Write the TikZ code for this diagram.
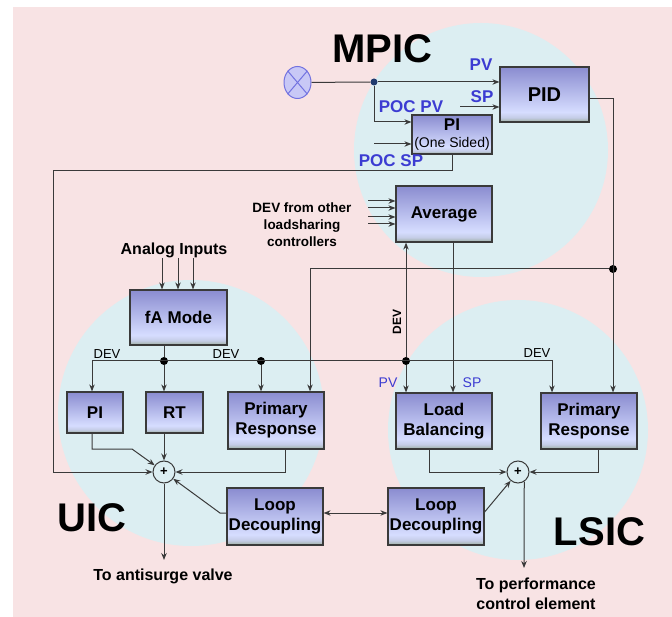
\documentclass[tikz,border=0pt]{standalone}
\usepackage{fontspec}
\setmainfont{Liberation Sans}
\usetikzlibrary{arrows.meta,calc,shapes.geometric}
\definecolor{bgpink}{HTML}{F8E3E4}
\definecolor{circblue}{HTML}{DCEEF2}
\definecolor{bxtop}{HTML}{8A8CD0}
\definecolor{bxlight}{HTML}{D6DDFF}
\definecolor{bxmid}{HTML}{C4CCE6}
\definecolor{bxbot}{HTML}{9DAF9F}
\definecolor{lblue}{HTML}{3C3CD2}
\definecolor{lnc}{HTML}{3A3A3A}
\definecolor{navy}{HTML}{1F3A6E}
\definecolor{valvefill}{HTML}{C8C8F6}
\definecolor{valveline}{HTML}{7272E0}
\pgfdeclareverticalshading{boxsh}{100bp}{color(0bp)=(bxbot); color(25bp)=(bxbot); color(29bp)=(bxmid); color(34bp)=(bxlight); color(75bp)=(bxtop); color(100bp)=(bxtop)}
\newcommand\myfs[2]{\fontsize{#1}{#2}\selectfont}
\begin{document}
\begin{tikzpicture}[x=1pt,y=-1pt,
  box/.style={draw=lnc,line width=1.2pt,shading=boxsh,inner sep=0pt,align=center,font=\bfseries\myfs{17}{20}},
  ln/.style={draw=lnc,line width=1pt},
  arr/.style={-{Stealth[length=7pt,width=5.5pt]}},
  dot/.style={circle,fill=black,inner sep=0pt,minimum size=8pt},
  sumc/.style={circle,draw=lnc,line width=1pt,fill=circblue,minimum size=22pt,inner sep=0pt,font=\bfseries\myfs{13}{13}},
  blab/.style={text=lblue,font=\bfseries\myfs{17}{17},inner sep=0pt},
  slab/.style={text=lblue,font=\myfs{14}{14},inner sep=0pt},
  dlab/.style={font=\myfs{13}{13},inner sep=0pt},
  big/.style={font=\bfseries\myfs{40}{40},inner sep=0pt},
  tlab/.style={font=\bfseries\myfs{16}{20},align=center,inner sep=0pt}
]
\useasboundingbox (0,0) rectangle (672,617);
\fill[white] (0,0) rectangle (672,617);
\fill[bgpink] (13,7) rectangle (672,617);
% regions
\fill[circblue] (481,150) circle[radius=127pt];
\fill[circblue] (191,413) circle[radius=133pt];
\fill[circblue] (518,430) circle[radius=130pt];
% big labels
\node[big] (mpic) at (382.5,49) {MPIC};
\node[big] (uic) at (92,517.5) {UIC};
\node[big] (lsic) at (599.5,532) {LSIC};
% boxes
\node[box,minimum width=89pt,minimum height=55pt,font=\bfseries\myfs{20}{20}] (PID) at (544.5,94.5) {PID};
\node[box,minimum width=80pt,minimum height=39pt,font=\bfseries\myfs{17}{17}] (PI1) at (452,134.5) {PI\\{\mdseries\myfs{14}{14}(One Sided)}};
\node[box,minimum width=96pt,minimum height=56pt] (avg) at (444,214) {Average};
\node[box,minimum width=97pt,minimum height=55pt] (fA) at (178.5,317.5) {fA Mode};
\node[box,minimum width=56pt,minimum height=41pt] (PI2) at (95,412.5) {PI};
\node[box,minimum width=57pt,minimum height=41pt] (RT) at (174.5,412.5) {RT};
\node[box,minimum width=96pt,minimum height=57pt] (PRU) at (276,420.5) {Primary\\Response};
\node[box,minimum width=96pt,minimum height=56pt] (LB) at (444,421) {Load\\Balancing};
\node[box,minimum width=96pt,minimum height=56pt] (PRL) at (589,421) {Primary\\Response};
\node[box,minimum width=96pt,minimum height=57pt] (LDU) at (275,516.5) {Loop\\Decoupling};
\node[box,minimum width=96pt,minimum height=57pt] (LDL) at (436,516.5) {Loop\\Decoupling};
\node[sumc] (sumU) at (164,472) {+};
\node[sumc] (sumL) at (518,472) {+};
% valve
\node[ellipse,draw=valveline,fill=valvefill,line width=1pt,minimum width=27pt,minimum height=32pt,inner sep=0pt] (valve) at (297.5,82.5) {};
\draw[valveline,line width=1pt] (valve.north west) -- (valve.south east);
\draw[valveline,line width=1pt] (valve.north east) -- (valve.south west);
% MPIC connectors
\node[dot,fill=navy,minimum size=7pt] (jV) at (374,82) {};
\draw[ln] (valve) -- (jV);
\draw[ln,arr] (jV) -- (jV -| PID.west);
\draw[ln,arr] (jV) |- ([yshift=12.5pt]PI1.west);
\coordinate (pocspin) at (374,144);
\draw[ln,arr] (pocspin) -- (pocspin -| PI1.west);
\coordinate (spin) at (460,107);
\draw[ln,arr] (spin) -- (spin -| PID.west);
\node[blab] at (481,65) {PV};
\node[blab] at (482,96.5) {SP};
\node[blab] at (411,106.5) {POC PV};
\node[blab] at (391,161) {POC SP};
% POC SP loop to UIC sum
\coordinate (l1) at (53,171);
\draw[ln,arr] (PI1.south) |- (l1) |- (sumU.west);
% PID output
\node[dot] (jP) at (613,269) {};
\draw[ln,arr] ([yshift=-4.5pt]PID.east) -| (PRL.north -| jP);
\draw[ln,arr] (jP) -| ([xshift=34pt]PRU.north);
% Average inputs
\node[font=\bfseries\myfs{13.5}{17},align=center,inner sep=0pt] (devtxt) at (302,225) {DEV from other\\loadsharing\\controllers};
\foreach \i/\yy in {1/201,2/208,3/217,4/224}{
  \coordinate (dv\i) at (368,\yy);
  \draw[ln,arr] (dv\i) -- (dv\i -| avg.west);
}
% analog inputs
\node[font=\bfseries\myfs{16}{16},inner sep=0pt] (analog) at (174,250) {Analog Inputs};
\foreach \dx in {-16.5,-0.5,14.5}{
  \draw[ln,arr] ([xshift=\dx pt,yshift=-8pt]analog.center -| fA.north) -- ([xshift=\dx pt]fA.north);
}
% DEV bus
\node[dot] (jA) at (164,361) {};
\node[dot] (jB) at (261,361) {};
\node[dot] (jC) at (406,361) {};
\coordinate (busL) at (92,361);
\coordinate (busR) at (552,361);
\draw[ln] ([xshift=-14.5pt]fA.south) -- (jA);
\draw[ln,arr] (busL) -- (busL |- PI2.north);
\draw[ln,arr] (busL) -- (busR) -- (busR |- PRL.north);
\draw[ln,arr] (jA) -- (jA |- RT.north);
\draw[ln,arr] (jB) -- (jB |- PRU.north);
\draw[ln,arr] (jC) -- (jC |- LB.north);
\draw[ln,arr] (jC) -- (jC |- avg.south);
\draw[ln,arr] ([xshift=9pt]avg.south) -- ([xshift=9pt]avg.south |- LB.north);
\node[dlab] at (107,354) {DEV};
\node[dlab] at (226,354) {DEV};
\node[dlab] at (537,353) {DEV};
\node[font=\bfseries\myfs{12}{12},inner sep=0pt,rotate=90] at (397,322) {DEV};
\node[slab] at (388,383) {PV};
\node[slab] at (472,383) {SP};
% UIC sum
\coordinate (pi2c) at (132,449);
\draw[ln,arr] ([xshift=-3pt]PI2.south) |- (pi2c) -- (sumU);
\draw[ln,arr] (sumU.north |- RT.south) -- (sumU.north);
\draw[ln,arr] ([xshift=9pt]PRU.south) |- (sumU.east);
\coordinate (ldc) at (220,513);
\draw[ln,arr] ([yshift=3.5pt]LDU.west) -- (ldc) -- (sumU);
\draw[ln,{Stealth[length=7pt,width=5.5pt]}-{Stealth[length=7pt,width=5.5pt]}] ([yshift=3.5pt]LDU.east) -- ([yshift=3.5pt]LDL.west);
% LSIC sum
\draw[ln,arr] ([yshift=4.5pt]LDL.east) -- (sumL);
\draw[ln,arr] ([xshift=-15pt]LB.south) |- (sumL.west);
\draw[ln,arr] ([xshift=9pt]PRL.south) |- (sumL.east);
% outputs
\coordinate (outU) at (164,560);
\draw[ln,arr] (sumU.south) -- (outU);
\coordinate (outL) at (524,568);
\draw[ln,arr] (sumL.-57) -- (outL);
\node[tlab] at (163,576) {To antisurge valve};
\node[tlab] at (536,594) {To performance\\control element};
\end{tikzpicture}
\end{document}
